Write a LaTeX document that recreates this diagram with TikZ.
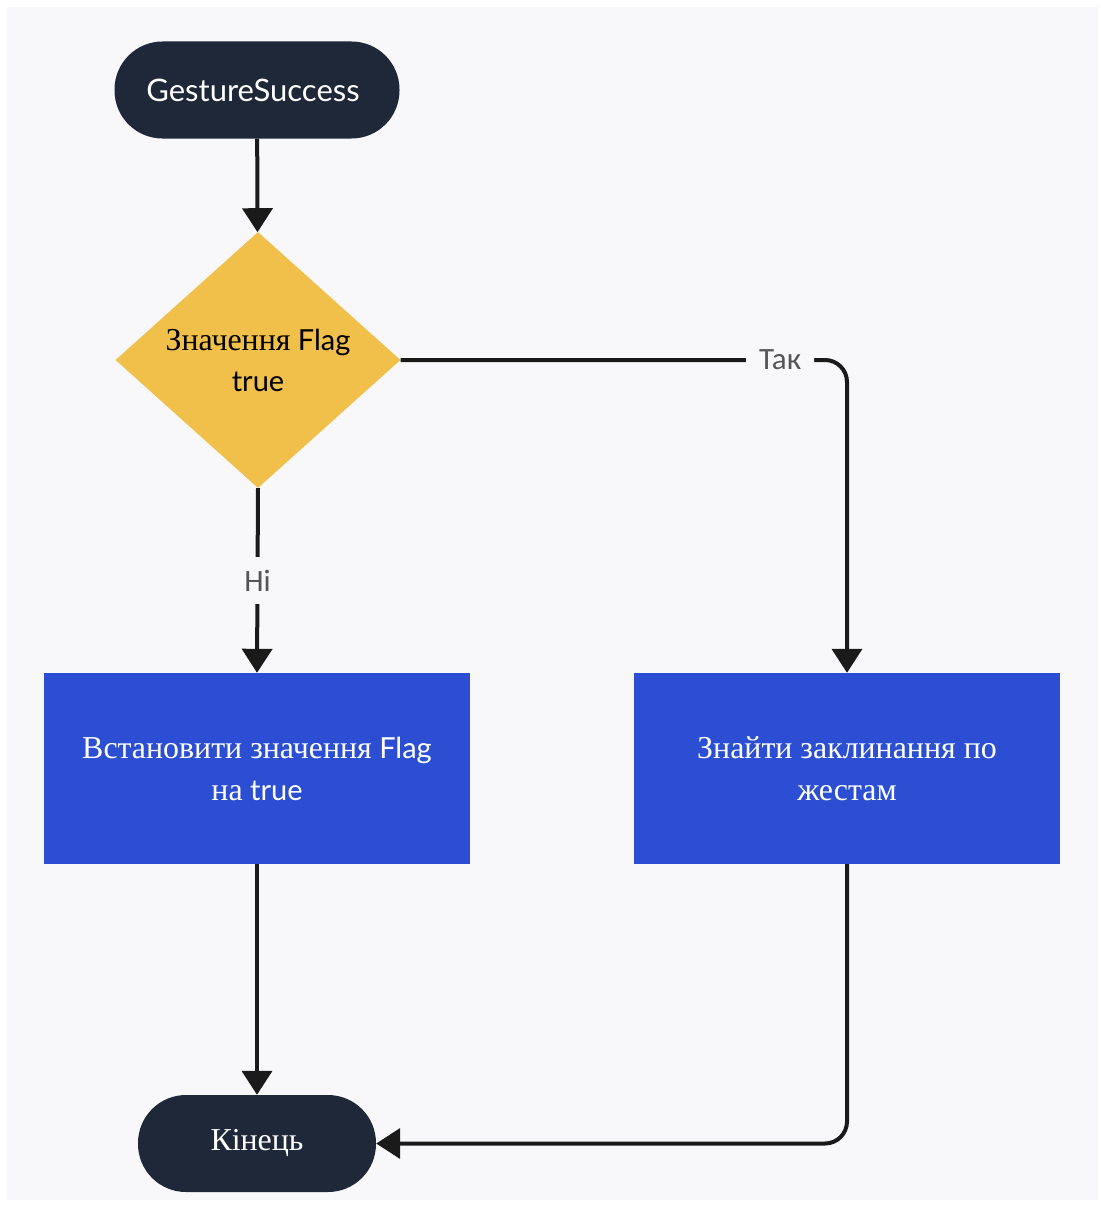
\documentclass[tikz,border=0pt]{standalone}
\usepackage{fontspec}
\setmainfont{Lato}
\newfontfamily\cyr[Scale=1.1]{Liberation Serif}
\newfontfamily\lblfont{Carlito}
\usetikzlibrary{shapes.geometric,arrows.meta}
\definecolor{bgpanel}{HTML}{F8F8FA}
\definecolor{navy}{HTML}{1F2838}
\definecolor{amber}{HTML}{F1C04B}
\definecolor{royal}{HTML}{2B4ED3}
\definecolor{ink}{HTML}{1A1A1A}
\definecolor{lblgray}{HTML}{555555}
\begin{document}
\begin{tikzpicture}[x=1pt,y=-1pt,
  pill/.style={fill=navy, text=white, rounded corners=48pt, inner sep=0pt,
    minimum height=97pt, align=center},
  decision/.style={diamond, fill=amber, text=black, inner sep=0pt,
    minimum width=285pt, minimum height=256pt, aspect=1.11, align=center,
    font=\fontsize{29}{41}\selectfont},
  action/.style={rectangle, fill=royal, text=white, inner sep=0pt,
    minimum width=426pt, minimum height=191pt, align=center,
    font=\fontsize{29}{42}\selectfont},
  conn/.style={draw=ink, line width=4pt,
    -{Triangle[width=30pt,length=24pt]}},
  lbl/.style={fill=bgpanel, text=lblgray, inner xsep=13pt, inner ysep=13pt,
    font=\lblfont\fontsize{31}{32}\selectfont}]

% canvas
\useasboundingbox (0,0) rectangle (1100,1207);
\fill[white] (0,0) rectangle (1100,1207);
\fill[bgpanel] (7,7) rectangle (1098,1200);

% nodes
\node[pill, minimum width=285pt, font=\fontsize{31}{36}\selectfont] (start) at (257,90) {\hspace*{-8pt}GestureSuccess};
\node[decision] (dec) at (258,360) {{\cyr Значення} Flag\\true};
\node[action] (setf) at (257,768.5) {{\cyr Встановити значення} Flag\\{\cyr на} true};
\node[action] (find) at (847,768.5) {{\cyr Знайти заклинання по}\\{\cyr жестам}};
\node[pill, minimum width=238pt, font=\cyr\fontsize{29}{32}\selectfont] (end) at (257,1143.5) {Кінець};

% connectors
\draw[conn] (start) -- (dec);
\draw[conn] (dec.south) -- node[lbl] {Ні} (setf.north);
\draw[conn, rounded corners=22pt] (dec.east) -- node[lbl, pos=0.85] {Так} (find.north |- dec.east) -- (find.north);
\draw[conn] (setf.south) -- (end.north);
\draw[conn, rounded corners=22pt] (find.south) |- (end.east);
\end{tikzpicture}
\end{document}
